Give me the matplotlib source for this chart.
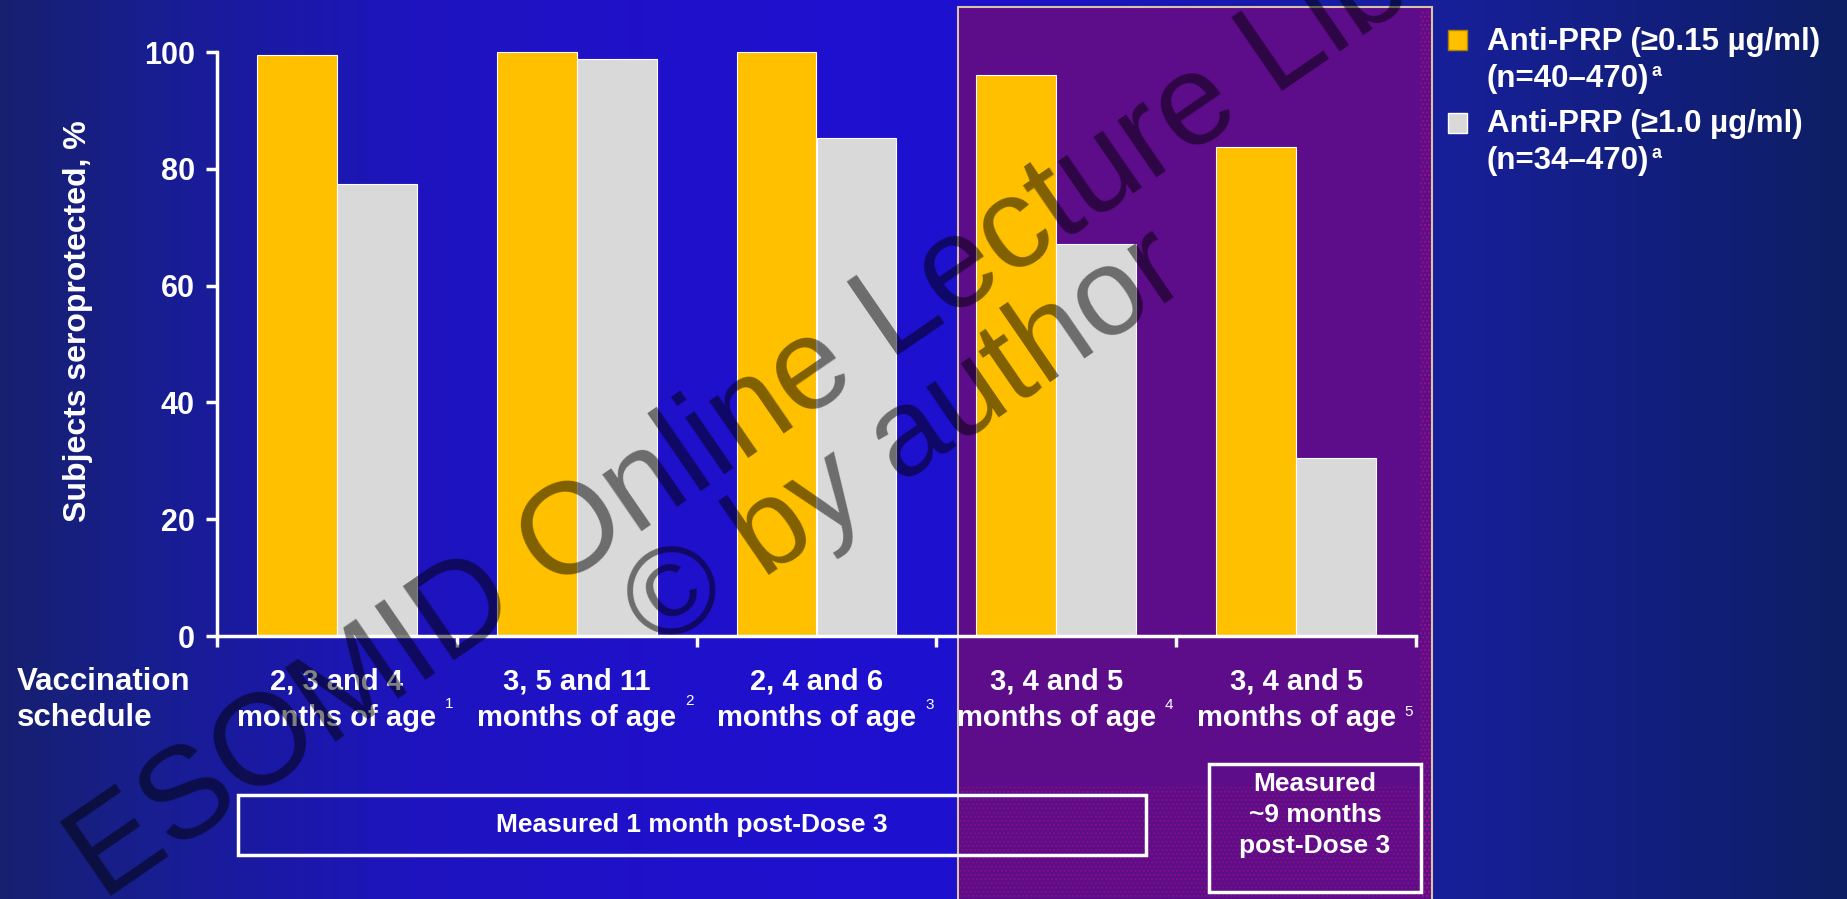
import numpy as np
import matplotlib
matplotlib.use("Agg")
import matplotlib.pyplot as plt
from matplotlib.colors import LinearSegmentedColormap
from matplotlib.patches import Rectangle
from matplotlib.transforms import blended_transform_factory

plt.rcParams['font.family'] = ['Liberation Sans', 'DejaVu Sans']

# Données
schedules = ["2, 3 and 4\nmonths of age", "3, 5 and 11\nmonths of age",
             "2, 4 and 6\nmonths of age", "3, 4 and 5\nmonths of age",
             "3, 4 and 5\nmonths of age"]
refs = ["1", "2", "3", "4", "5"]
anti_prp_015 = [99.5, 100, 100, 96.1, 83.8]
anti_prp_10 = [77.4, 98.8, 85.3, 67.2, 30.5]
yticks = [0, 20, 40, 60, 80, 100]
legend_titles = ["Anti-PRP (≥0.15 µg/ml)", "Anti-PRP (≥1.0 µg/ml)"]
legend_n = ["(n=40–470)", "(n=34–470)"]
colors = ["#FFC000", "#D9D9D9"]

W, H = 1847, 899
fig = plt.figure(figsize=(W / 100, H / 100), dpi=100)


def fx(px):
    return px / W


def fy(py):
    return 1 - py / H


# fond en dégradé bleu
bg = fig.add_axes([0, 0, 1, 1], zorder=0)
bg_cmap = LinearSegmentedColormap.from_list(
    "bg", [(0, "#16206E"), (0.08, "#181E90"), (0.22, "#1E14BE"),
           (0.38, "#2010CC"), (0.51, "#1E10D0"), (0.78, "#17209A"),
           (1, "#0E1E64")])
bg.imshow(np.linspace(0, 1, 512)[None, :], cmap=bg_cmap, aspect="auto",
          extent=[0, 1, 0, 1])
bg.set_xlim(0, 1)
bg.set_ylim(0, 1)
bg.axis("off")
# zone violette
bg.add_patch(Rectangle((fx(958), -0.01), fx(1432) - fx(958), fy(7) + 0.01,
                       facecolor="#5D0C8A", edgecolor="#D6C6A6", lw=1.5))
# trame pointillée (comme dans la diapo)
bg.add_patch(Rectangle((fx(959), -0.01), fx(1431) - fx(959), fy(787) + 0.01,
                       fill=False, hatch="....", edgecolor=(0.8, 0.1, 0.4, 0.3),
                       lw=0))
bg.add_patch(Rectangle((fx(1420), -0.01), fx(1431) - fx(1420), fy(9) + 0.01,
                       fill=False, hatch="....", edgecolor=(0.8, 0.1, 0.4, 0.45),
                       lw=0))

# graphique principal
ax = fig.add_axes([fx(217), fy(636), fx(1416) - fx(217), (636 - 52) / H],
                  zorder=1)
ax.set_facecolor("none")
x = np.arange(len(schedules))
w = 1 / 3
ax.bar(x - w / 2, anti_prp_015, w, color=colors[0], edgecolor="white",
       lw=0.8, clip_on=False)
ax.bar(x + w / 2, anti_prp_10, w, color=colors[1], edgecolor="white",
       lw=0.8, clip_on=False)
ax.set_xlim(-0.5, len(schedules) - 0.5)
ax.set_ylim(0, 100)
for s in ["top", "right"]:
    ax.spines[s].set_visible(False)
for s in ["left", "bottom"]:
    ax.spines[s].set_color("white")
    ax.spines[s].set_linewidth(2.5)
ax.set_yticks(yticks)
ax.set_yticklabels([str(t) for t in yticks], fontsize=22, fontweight="bold",
                   color="white")
ax.set_xticks(np.arange(-0.5, len(schedules)))
ax.set_xticklabels([])
ax.tick_params(axis="both", colors="white", length=8, width=2.5)
ax.tick_params(axis="y", pad=8)

fig.text(fx(78), fy(321), "Subjects seroprotected, %", rotation=90,
         ha="center", va="center", fontsize=23, fontweight="bold",
         color="white")

# étiquettes de l'axe x
tr = blended_transform_factory(ax.transData, fig.transFigure)
sup_y = [704, 701, 705, 705, 712]
for i, lab in enumerate(schedules):
    ax.text(i, fy(700), lab, transform=tr, ha="center", va="center",
            fontsize=21, fontweight="bold", color="white", linespacing=1.38)
    ax.text(i + 0.47, fy(sup_y[i]), refs[i], transform=tr, ha="center",
            va="center", fontsize=11, color="white")

fig.text(fx(17), fy(700), "Vaccination\nschedule", ha="left", va="center",
         fontsize=22.5, fontweight="bold", color="white", linespacing=1.3)

# encadrés
fig.add_artist(Rectangle((fx(238), fy(855)), fx(1146) - fx(238),
                         (855 - 795) / H, transform=fig.transFigure,
                         fill=False, edgecolor="white", lw=2.5))
fig.text(fx(692), fy(825), "Measured 1 month post-Dose 3", ha="center",
         va="center", fontsize=19, fontweight="bold", color="white")
fig.add_artist(Rectangle((fx(1209), fy(892)), fx(1421) - fx(1209),
                         (892 - 764) / H, transform=fig.transFigure,
                         fill=False, edgecolor="white", lw=2.5))
fig.text(fx(1315), fy(815), "Measured\n~9 months\npost-Dose 3", ha="center",
         va="center", fontsize=19, fontweight="bold", color="white",
         linespacing=1.38)

# légende
sq_y = [40, 123]
line_y = [[42, 79], [124, 161]]
n_texts = []
for i in range(2):
    fig.add_artist(Rectangle((fx(1448), fy(sq_y[i] + 10)), fx(1467) - fx(1448),
                             20 / H, transform=fig.transFigure,
                             facecolor=colors[i],
                             edgecolor="#B08000" if i == 0 else "white",
                             lw=1))
    fig.text(fx(1487), fy(line_y[i][0]), legend_titles[i], ha="left",
             va="center", fontsize=22.5, fontweight="bold", color="white")
    n_texts.append(fig.text(fx(1487), fy(line_y[i][1]), legend_n[i],
                            ha="left", va="center", fontsize=22.5,
                            fontweight="bold", color="white"))

fig.canvas.draw()
for i, t in enumerate(n_texts):
    bb = t.get_window_extent()
    fig.text(bb.x1 / W + fx(2), fy(line_y[i][1] - 8), "a", ha="left",
             va="center", fontsize=13, fontweight="bold", color="white")

# filigrane
fig.text(fx(832), fy(360), "ESOMID Online Lecture Library", rotation=34.5,
         rotation_mode="anchor", ha="center", va="center", fontsize=93,
         color="black", alpha=0.5, zorder=10)
fig.text(fx(907), fy(442), "© by author", rotation=34.5,
         rotation_mode="anchor", ha="center", va="center", fontsize=90,
         color="black", alpha=0.5, zorder=10)

fig.savefig("out.png", dpi=100)
